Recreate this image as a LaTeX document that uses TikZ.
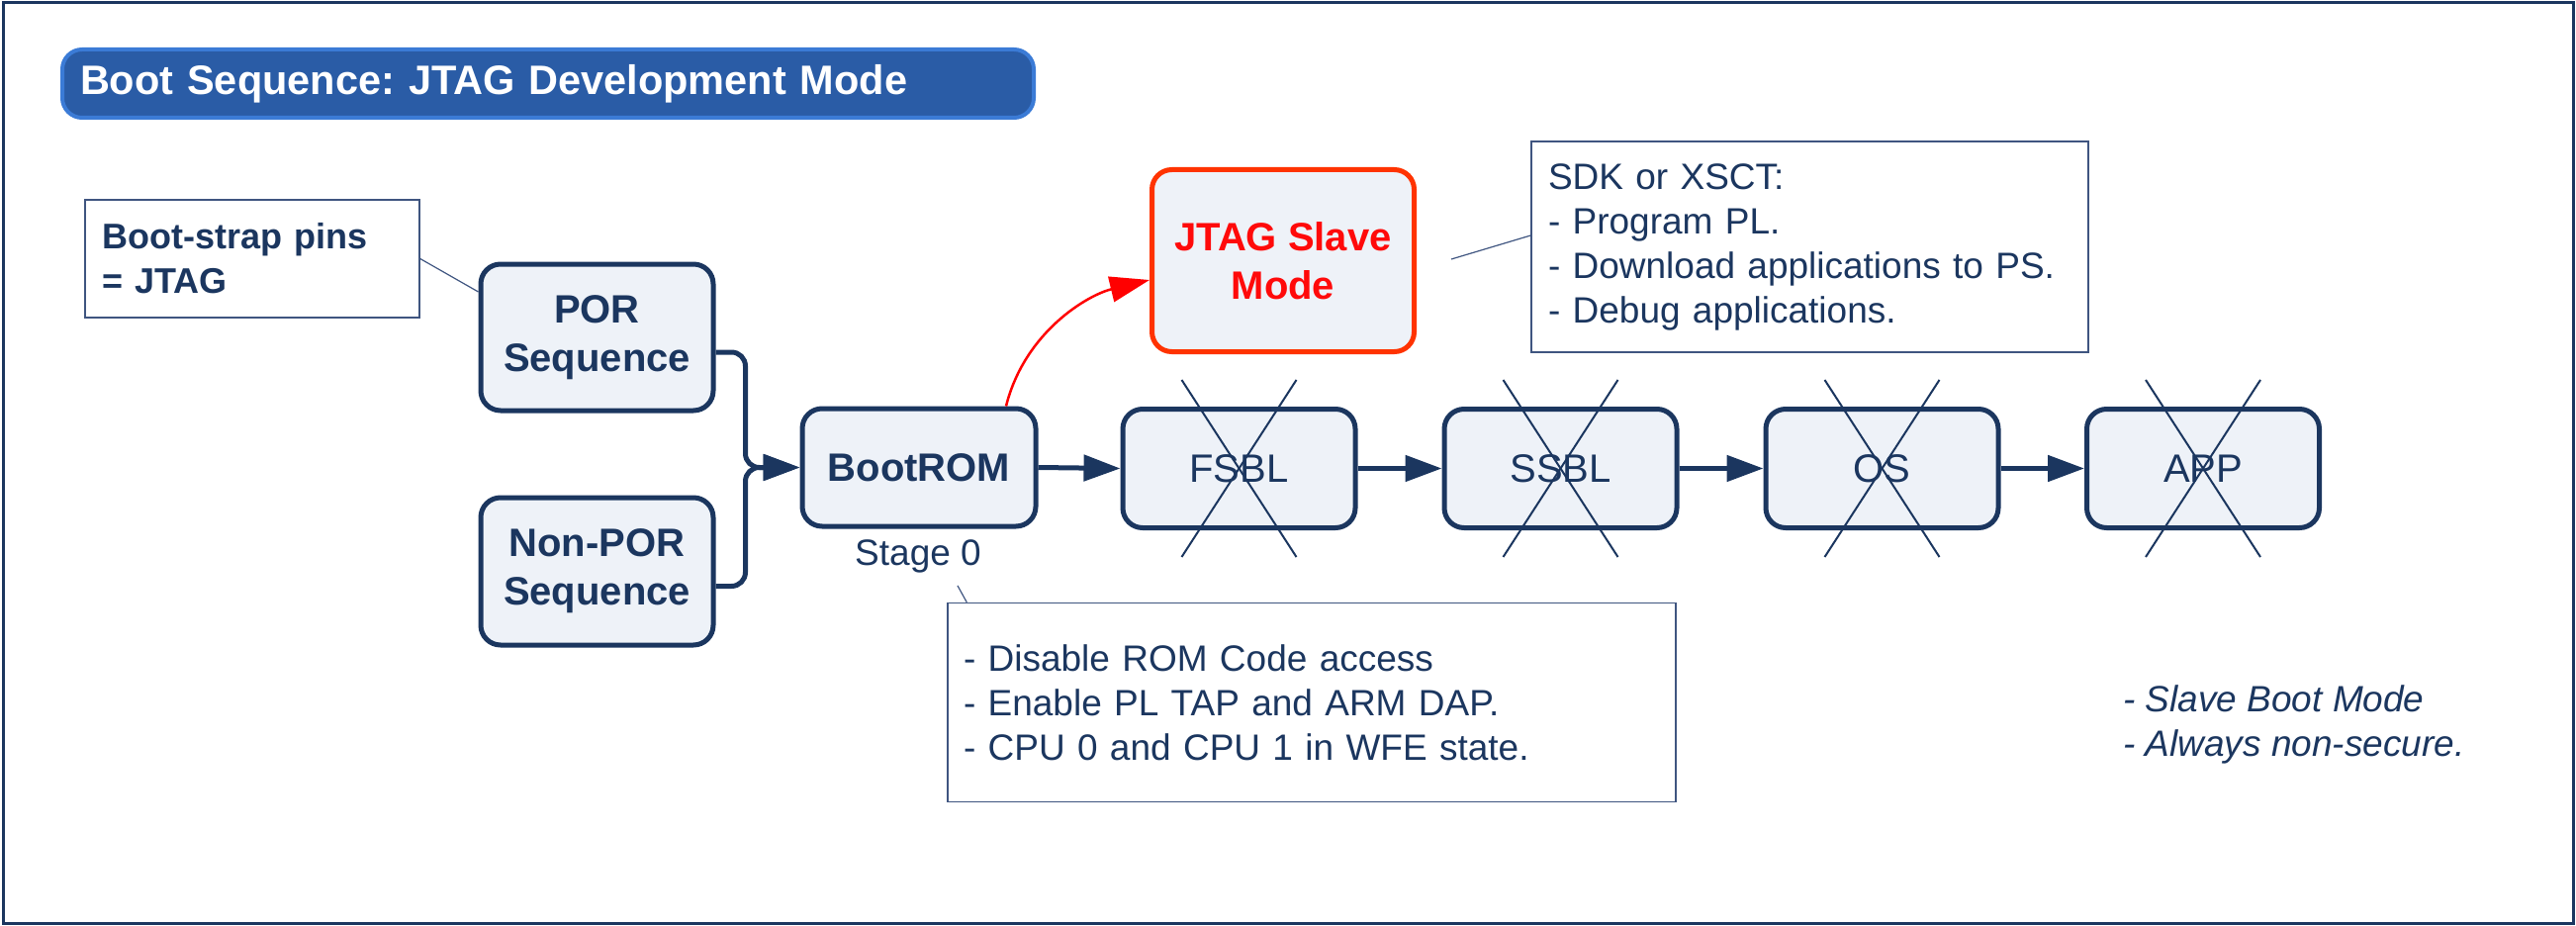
\documentclass[tikz,border=0pt]{standalone}
\usepackage{fontspec}
\setmainfont{Liberation Sans}
\usetikzlibrary{arrows.meta,calc}
\frenchspacing
\definecolor{navy}{HTML}{1B365F}
\definecolor{boxfill}{HTML}{EEF2F8}
\definecolor{titlefill}{HTML}{2A5CA6}
\definecolor{titleline}{HTML}{3B7BD6}
\definecolor{callline}{HTML}{3F5580}
\definecolor{jtagline}{HTML}{FF3300}
\definecolor{jtagtext}{HTML}{FF0A0A}
\newcommand\sztitle{\fontsize{41.5}{50}\selectfont}
\newcommand\szlab{\fontsize{40}{49}\selectfont}
\newcommand\szpin{\fontsize{36}{45}\selectfont}
\newcommand\sznote{\fontsize{37}{45}\selectfont}
\begin{document}
\begin{tikzpicture}[x=1pt,y=-1pt,
  stagebox/.style={draw=navy, line width=5pt, fill=boxfill, rounded corners=20pt,
    inner sep=0pt, align=center, text=navy, font=\szlab},
  callout/.style={draw=callline, line width=1.5pt, fill=white, inner ysep=0pt,
    align=left, text=navy, font=\sznote},
  flow/.style={draw=navy, line width=5pt, -{Triangle[length=37pt,width=26pt]}},
  leader/.style={draw=callline, line width=1.2pt},
  cross/.style={draw=navy, line width=2pt}]
\useasboundingbox (0,0) rectangle (2604,936);
\draw[navy, line width=3pt] (3,3) rectangle (2601,933);

% title
\node[draw=titleline, line width=4pt, fill=titlefill, rounded corners=20pt,
  minimum width=982, minimum height=69, text width=946, inner xsep=18pt, inner ysep=0pt,
  align=left, text=white, font=\sztitle\bfseries] (title) at (554,84.5)
  {Boot Sequence: JTAG Development Mode};

% boot-strap pins
\node[callout, font=\szpin\bfseries, minimum width=338, minimum height=119,
  text width=303, inner xsep=17.5pt] (pins) at (255,261.5) {Boot-strap pins\\= JTAG};

% stage boxes
\node[stagebox, font=\szlab\bfseries, minimum width=235, minimum height=148] (por) at (603.5,341) {POR\\Sequence};
\node[stagebox, font=\szlab\bfseries, minimum width=235, minimum height=149] (npor) at (603.5,577.5) {Non-POR\\Sequence};
\node[stagebox, font=\szlab\bfseries, minimum width=236, minimum height=119] (brom) at (929,472.5) {BootROM};
\node[stagebox, minimum width=235, minimum height=120] (fsbl) at (1252.5,473.5) {FSBL};
\node[stagebox, minimum width=235, minimum height=120] (ssbl) at (1577.5,473.5) {SSBL};
\node[stagebox, minimum width=235, minimum height=120] (os) at (1902.5,473.5) {OS};
\node[stagebox, minimum width=235, minimum height=120] (app) at (2227,473.5) {APP};
\node[stagebox, draw=jtagline, text=jtagtext, font=\szlab\bfseries,
  minimum width=265, minimum height=184] (jtag) at (1297,263.5) {JTAG Slave\\Mode};

\node[text=navy, font=\sznote, inner sep=0pt] (stage) at (928,562) {Stage 0};

% callouts
\node[callout, minimum width=563, minimum height=213, text width=529, inner xsep=17pt] (sdk) at (1829.5,249.5)
  {SDK or XSCT:\\- Program PL.\\- Download applications to PS.\\- Debug applications.};
\node[callout, minimum width=736, minimum height=201, text width=704, inner xsep=16pt] (rom) at (1326,710)
  {- Disable ROM Code access\\- Enable PL TAP and ARM DAP.\\- CPU 0 and CPU 1 in WFE state.};
\node[text=navy, font=\sznote\itshape, align=left, inner sep=0pt, anchor=west] (slave) at (2146,732)
  {- Slave Boot Mode\\- Always non-secure.};

% leaders
\draw[leader] (pins.east) -- ([yshift=46pt]por.west);
\coordinate (jl) at (1467,262);
\draw[leader] (jl) -- ([yshift=11.5pt]sdk.west);
\coordinate (sl) at (968,592);
\draw[leader] (sl) -- ([xshift=20pt]rom.north west);

% flows
\draw[flow, rounded corners=14pt] ([yshift=-15pt]por.east) -- ++(30,0) |- (brom.west);
\draw[flow, rounded corners=14pt] ([yshift=-15pt]npor.east) -- ++(30,0) |- (brom.west);
\draw[flow] (brom.east) -- (fsbl.west);
\draw[flow] (fsbl.east) -- (ssbl.west);
\draw[flow] (ssbl.east) -- (os.west);
\draw[flow] (os.east) -- (app.west);

% red curve
\draw[red, line width=2.5pt, -{Triangle[length=40pt,width=26pt]}]
  ([xshift=88pt]brom.north) .. controls (1036,335) and (1100,298) .. ([yshift=-19.5pt]jtag.west);

% crosses
\foreach \n in {fsbl,ssbl,os,app}{
  \draw[cross] ([shift={(-58,-89.5)}]\n.center) -- ([shift={(58,89.5)}]\n.center);
  \draw[cross] ([shift={(58,-89.5)}]\n.center) -- ([shift={(-58,89.5)}]\n.center);
}
\end{tikzpicture}
\end{document}
